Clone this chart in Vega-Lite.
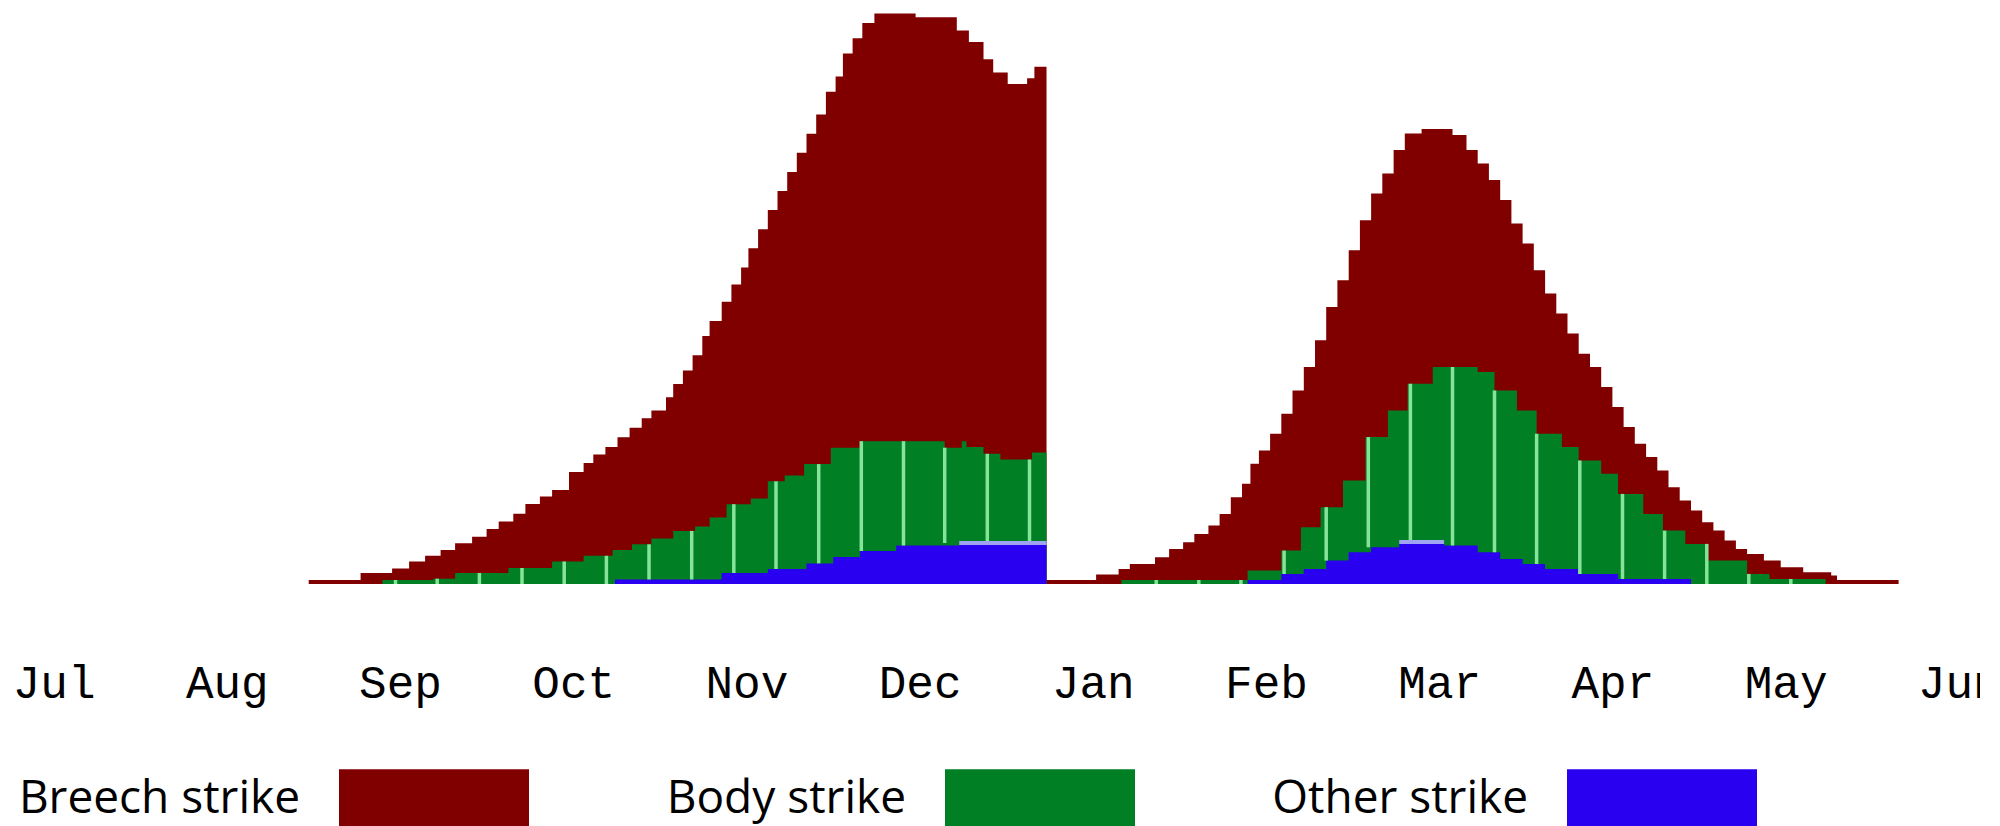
{
  "$schema": "https://vega.github.io/schema/vega-lite/v6.json",
  "width": 1905.2,
  "height": 571,
  "autosize": {"type": "none"},
  "padding": {"left": 53.6, "top": 13, "right": 21.2, "bottom": 242},
  "background": "white",
  "config": {"view": {"stroke": null}},
  "datasets": {
    "breech": [
      {"month":1.4729,"top":4},{"month":1.7725,"top":11},{"month":1.9544,"top":15.6},{"month":2.0526,"top":22.5},{"month":2.1449,"top":28.2},{"month":2.2344,"top":34},{"month":2.3181,"top":40.8},{"month":2.4163,"top":47.3},{"month":2.5,"top":55},{"month":2.5699,"top":62.6},{"month":2.6542,"top":70.3},{"month":2.724,"top":80},{"month":2.8077,"top":87.4},{"month":2.8782,"top":94},{"month":2.9758,"top":112},{"month":3.0601,"top":121},{"month":3.1161,"top":129.5},{"month":3.1859,"top":137.1},{"month":3.2558,"top":146.7},{"month":3.3256,"top":156.2},{"month":3.3955,"top":165.7},{"month":3.4515,"top":173.4},{"month":3.5358,"top":186.8},{"month":3.5774,"top":200.1},{"month":3.6334,"top":213.5},{"month":3.6894,"top":228.8},{"month":3.7454,"top":247.9},{"month":3.7875,"top":263.1},{"month":3.8574,"top":282.2},{"month":3.9134,"top":299.4},{"month":3.9694,"top":316.6},{"month":4.0116,"top":335.7},{"month":4.0676,"top":354.8},{"month":4.1236,"top":373.9},{"month":4.1796,"top":393},{"month":4.2356,"top":412.1},{"month":4.291,"top":431.2},{"month":4.347,"top":450.3},{"month":4.403,"top":469.4},{"month":4.459,"top":492.3},{"month":4.515,"top":507.6},{"month":4.5572,"top":530.5},{"month":4.6132,"top":545.8},{"month":4.6692,"top":561.1},{"month":4.739,"top":570.6},{"month":4.9769,"top":566.8},{"month":5.2148,"top":553.4},{"month":5.2846,"top":542},{"month":5.369,"top":524.8},{"month":5.425,"top":511.4},{"month":5.5087,"top":500},{"month":5.6207,"top":505.7},{"month":5.6628,"top":517.2},{"month":5.7328,"top":4},
      {"month":6.0191,"top":9.4},{"month":6.149,"top":15},{"month":6.2137,"top":20},{"month":6.3592,"top":26.7},{"month":6.4406,"top":35},{"month":6.5214,"top":41.7},{"month":6.5861,"top":50},{"month":6.6675,"top":58.4},{"month":6.7321,"top":70.1},{"month":6.7968,"top":86.8},{"month":6.8615,"top":100.2},{"month":6.91,"top":120.2},{"month":6.9591,"top":133.5},{"month":7.0237,"top":150.2},{"month":7.0884,"top":170.3},{"month":7.153,"top":193.6},{"month":7.2183,"top":217},{"month":7.283,"top":243.7},{"month":7.3476,"top":277.1},{"month":7.4123,"top":303.8},{"month":7.4775,"top":333.8},{"month":7.5422,"top":363.8},{"month":7.6069,"top":390.5},{"month":7.6715,"top":410.6},{"month":7.7368,"top":433.9},{"month":7.8014,"top":450.6},{"month":7.8984,"top":455},{"month":8.0768,"top":449},{"month":8.1576,"top":433.9},{"month":8.2223,"top":420.6},{"month":8.287,"top":403.9},{"month":8.3522,"top":383.9},{"month":8.4169,"top":360.5},{"month":8.4815,"top":340.5},{"month":8.5462,"top":313.8},{"month":8.6114,"top":290.4},{"month":8.6761,"top":270.4},{"month":8.7407,"top":250.4},{"month":8.8054,"top":230.3},{"month":8.8707,"top":217},{"month":8.9353,"top":197},{"month":9.0,"top":176.9},{"month":9.0647,"top":156.9},{"month":9.1293,"top":140.2},{"month":9.1946,"top":126.9},{"month":9.2592,"top":113.5},{"month":9.3239,"top":96.8},{"month":9.3886,"top":83.5},{"month":9.4538,"top":73.5},{"month":9.5185,"top":61.8},{"month":9.5831,"top":53.4},{"month":9.6478,"top":43.4},{"month":9.713,"top":35.1},{"month":9.7777,"top":30.1},{"month":9.8747,"top":23.4},{"month":9.9717,"top":16.7},{"month":10.1016,"top":11.7},{"month":10.2633,"top":8.4},{"month":10.2968,"top":4},{"month":10.6524,"top":0}
    ],
    "body": [
      {"month":1.8984,"top":4},{"month":2.1923,"top":5.3},{"month":2.3181,"top":11},{"month":2.6259,"top":16},{"month":2.8782,"top":22.5},{"month":3.0601,"top":28.2},{"month":3.2275,"top":34},{"month":3.3395,"top":39.7},{"month":3.4515,"top":45.4},{"month":3.5774,"top":53.1},{"month":3.7038,"top":57.6},{"month":3.7875,"top":66.4},{"month":3.8857,"top":79.8},{"month":4.0254,"top":85.5},{"month":4.1236,"top":102.7},{"month":4.2212,"top":108.4},{"month":4.3332,"top":119.9},{"month":4.4873,"top":136.3},{"month":4.6553,"top":142.8},{"month":5.1449,"top":136.3},{"month":5.2431,"top":142.8},{"month":5.2708,"top":137},{"month":5.369,"top":130.2},{"month":5.4666,"top":124.5},{"month":5.649,"top":131.4},{"month":5.7328,"top":0},
      {"month":6.1651,"top":4},{"month":6.8938,"top":13.4},{"month":7.0884,"top":33.4},{"month":7.2015,"top":56.8},{"month":7.3152,"top":76.8},{"month":7.4446,"top":103.5},{"month":7.5745,"top":146.9},{"month":7.7038,"top":173.6},{"month":7.8176,"top":200.3},{"month":7.963,"top":217},{"month":8.2223,"top":212},{"month":8.3193,"top":193.6},{"month":8.4492,"top":173.6},{"month":8.5624,"top":150.2},{"month":8.7084,"top":136.9},{"month":8.8054,"top":123.5},{"month":8.9353,"top":110.2},{"month":9.0323,"top":90.1},{"month":9.1784,"top":70.1},{"month":9.2916,"top":53.4},{"month":9.4209,"top":40.1},{"month":9.5508,"top":23.4},{"month":9.7777,"top":10.1},{"month":9.9071,"top":5},{"month":10.2309,"top":0}
    ],
    "other": [
      {"month":3.2413,"top":4.5},{"month":3.8574,"top":11},{"month":4.1236,"top":15},{"month":4.347,"top":20.6},{"month":4.5012,"top":27},{"month":4.6553,"top":33},{"month":4.8649,"top":38.5},{"month":5.2286,"top":39},{"month":5.7328,"top":0},
      {"month":6.8938,"top":4},{"month":7.0884,"top":10},{"month":7.2177,"top":15},{"month":7.3476,"top":23.4},{"month":7.4769,"top":31.7},{"month":7.6069,"top":36.7},{"month":7.7691,"top":40},{"month":8.0283,"top":38.4},{"month":8.2223,"top":31.7},{"month":8.3522,"top":25},{"month":8.4815,"top":20.1},{"month":8.6109,"top":15},{"month":8.8054,"top":10},{"month":9.0323,"top":5},{"month":9.4538,"top":0}
    ],
    "weeks": [
      {"month":1.974,"lo":0,"hi":4},{"month":2.2148,"lo":0,"hi":5.3},{"month":2.4584,"lo":0,"hi":11},{"month":2.7044,"lo":0,"hi":16},{"month":2.948,"lo":0,"hi":22.5},{"month":3.1917,"lo":0,"hi":28.2},{"month":3.4377,"lo":4.5,"hi":39.7},{"month":3.6842,"lo":4.5,"hi":53.1},{"month":3.9273,"lo":11,"hi":79.8},{"month":4.1709,"lo":15,"hi":102.7},{"month":4.4175,"lo":20.6,"hi":119.9},{"month":4.6634,"lo":33,"hi":142.8},{"month":4.907,"lo":38.5,"hi":142.8},{"month":5.1449,"lo":41,"hi":136.3},{"month":5.3909,"lo":41,"hi":130.2},{"month":5.6345,"lo":41,"hi":124.5},
      {"month":6.3661,"lo":0,"hi":4},{"month":6.612,"lo":0,"hi":4},{"month":6.8551,"lo":0,"hi":4},{"month":7.1045,"lo":10,"hi":33.4},{"month":7.3476,"lo":23.4,"hi":76.8},{"month":7.5907,"lo":36.7,"hi":146.9},{"month":7.8337,"lo":42,"hi":200.3},{"month":8.0768,"lo":38.4,"hi":217},{"month":8.3193,"lo":31.7,"hi":193.6},{"month":8.5624,"lo":20.1,"hi":150.2},{"month":8.8118,"lo":10,"hi":123.5},{"month":9.0583,"lo":5,"hi":90.1},{"month":9.3014,"lo":5,"hi":53.4},{"month":9.545,"lo":0,"hi":40.1},{"month":9.7875,"lo":0,"hi":10.1},{"month":10.03,"lo":0,"hi":5}
    ],
    "strips": [
      {"month":5.2286,"end":5.7328,"level":41},
      {"month":7.7691,"end":8.0283,"level":42}
    ]
  },
  "encoding": {
    "x": {
      "field": "month", "type": "quantitative",
      "scale": {"domain": [0, 11], "nice": false, "zero": false},
      "axis": {
        "values": [0,1,2,3,4,5,6,7,8,9,10,11],
        "labelExpr": "['Jul','Aug','Sep','Oct','Nov','Dec','Jan','Feb','Mar','Apr','May','Jun'][datum.value]",
        "domain": false, "ticks": false, "tickSize": 0, "grid": false, "title": null,
        "labelFont": "Liberation Mono", "labelFontSize": 46, "labelColor": "black",
        "labelBaseline": "alphabetic", "labelPadding": 113, "labelAngle": 0,
        "labelOverlap": false, "labelFlush": false, "labelBound": false
      }
    }
  },
  "layer": [
    {
      "data": {"name": "breech"},
      "mark": {"type": "area", "interpolate": "step-after"},
      "encoding": {
        "y": {"field": "top", "type": "quantitative", "stack": null, "scale": {"domain": [0, 571], "nice": false}, "axis": null},
        "color": {
          "datum": "Breech strike", "type": "nominal",
          "scale": {"domain": ["Breech strike", "Body strike", "Other strike"], "range": ["#800000", "#007f24", "#2a00f0"]},
          "legend": {
            "orient": "none", "legendX": 285.4, "legendY": 690.5, "direction": "horizontal", "title": null,
            "symbolType": "M-1,-0.31H1V0.31H-1Z", "symbolSize": 36100, "symbolStrokeWidth": 0, "symbolOpacity": 1,
            "labelFont": "Open Sans", "labelFontSize": 46, "labelColor": "black", "labelAlign": "right",
            "labelOffset": -229, "labelLimit": 0, "columnPadding": 137, "padding": 0, "offset": 0
          }
        }
      }
    },
    {
      "data": {"name": "body"},
      "mark": {"type": "area", "interpolate": "step-after"},
      "encoding": {
        "y": {"field": "top", "type": "quantitative", "stack": null},
        "color": {"datum": "Body strike", "type": "nominal"}
      }
    },
    {
      "data": {"name": "other"},
      "mark": {"type": "area", "interpolate": "step-after"},
      "encoding": {
        "y": {"field": "top", "type": "quantitative", "stack": null},
        "color": {"datum": "Other strike", "type": "nominal"}
      }
    },
    {
      "data": {"name": "weeks"},
      "mark": {"type": "rule", "color": "#86e39a", "strokeWidth": 3.5},
      "encoding": {
        "y": {"field": "lo", "type": "quantitative"},
        "y2": {"field": "hi"}
      }
    },
    {
      "data": {"name": "strips"},
      "mark": {"type": "rule", "color": "#9fa3f2", "strokeWidth": 4},
      "encoding": {
        "x2": {"field": "end"},
        "y": {"field": "level", "type": "quantitative"}
      }
    }
  ]
}
